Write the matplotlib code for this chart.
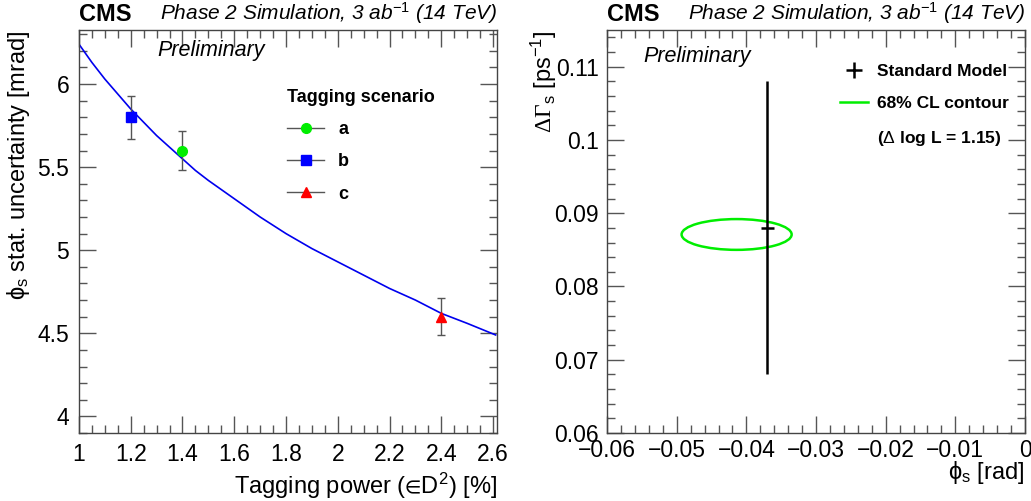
import matplotlib
matplotlib.use('Agg')
import matplotlib.pyplot as plt
from matplotlib.patches import Ellipse
from matplotlib.ticker import MultipleLocator
from matplotlib.lines import Line2D

plt.rcParams['font.family'] = ['Liberation Sans', 'DejaVu Sans']
plt.rcParams['mathtext.fontset'] = 'custom'
plt.rcParams['mathtext.rm'] = 'Liberation Sans'
plt.rcParams['mathtext.it'] = 'Liberation Sans:italic'
plt.rcParams['mathtext.bf'] = 'Liberation Sans:bold'
plt.rcParams['mathtext.cal'] = 'Liberation Serif'

# left panel: tagging scenarios
scen_names = ['a', 'b', 'c']
scen_power = [1.4, 1.2, 2.4]
scen_sigma = [5.6, 5.8, 4.6]
scen_err = [0.12, 0.13, 0.11]
scen_color = ['#00ee00', '#0000ff', '#ff0000']
scen_marker = ['o', 's', '^']

# fitted curve
curve_x = [1.0, 1.05, 1.1, 1.15, 1.2, 1.25, 1.3, 1.35, 1.4, 1.45, 1.5, 1.6, 1.7,
           1.8, 1.9, 2.0, 2.1, 2.2, 2.3, 2.4, 2.5, 2.61]
curve_y = [6.24, 6.13, 6.03, 5.94, 5.85, 5.77, 5.69, 5.62, 5.55, 5.48, 5.42, 5.31, 5.20,
           5.10, 5.01, 4.93, 4.85, 4.77, 4.70, 4.62, 4.56, 4.49]

# right panel: SM point and 68% CL contour
sm_phi, sm_dg = -0.0370, 0.088
sm_phi_err, sm_dg_err = 0.0009, 0.020
cont_center = (-0.0414, 0.0871)
cont_width, cont_height = 0.0158, 0.0042

fig = plt.figure(figsize=(10.31, 5.01), dpi=100)
axL = fig.add_axes([0.0766, 0.1357, 0.4054, 0.8043])
axR = fig.add_axes([0.5888, 0.1357, 0.4054, 0.8043])

def root_style(ax):
    for s in ax.spines.values():
        s.set_linewidth(1.0)
        s.set_color('#444444')
    ax.tick_params(which='both', direction='in', top=True, right=True,
                   color='#555555', labelsize=16.5, pad=7)
    ax.tick_params(which='major', length=12, width=1)
    ax.tick_params(which='minor', length=6, width=1)

# ---- left
axL.plot(curve_x, curve_y, color='#0000ee', lw=1.2, zorder=2)
for n, x, y, e, c, m in zip(scen_names, scen_power, scen_sigma, scen_err, scen_color, scen_marker):
    axL.errorbar(x, y, yerr=e, fmt=m, color=c, ms=7, ecolor='#555555',
                 elinewidth=1, capsize=3, capthick=1, zorder=3)
axL.set_xlim(1, 2.615)
axL.set_ylim(3.9, 6.325)
axL.xaxis.set_minor_locator(MultipleLocator(0.05))
axL.yaxis.set_minor_locator(MultipleLocator(0.1))
axL.set_xticks([1, 1.2, 1.4, 1.6, 1.8, 2, 2.2, 2.4, 2.6])
axL.set_xticklabels(['1', '1.2', '1.4', '1.6', '1.8', '2', '2.2', '2.4', '2.6'])
axL.set_yticks([4, 4.5, 5, 5.5, 6])
axL.set_yticklabels(['4', '4.5', '5', '5.5', '6'])
root_style(axL)
axL.set_xlabel('Tagging power ($\\mathrm{\u2208}$D$^{2}$) [%]', fontsize=17, loc='right')
axL.set_ylabel('$\\mathrm{\u03d5}_\\mathrm{s}$ stat. uncertainty [mrad]', fontsize=17, loc='top')
axL.text(0, 1.01, 'CMS', transform=axL.transAxes, fontsize=17, fontweight='bold', va='bottom')
axL.text(1, 1.01, 'Phase 2 Simulation, 3 ab$^{-1}$ (14 TeV)', transform=axL.transAxes,
         fontsize=15, style='italic', ha='right', va='bottom')
axL.text(0.187, 0.95, 'Preliminary', transform=axL.transAxes, fontsize=15.5,
         style='italic', va='center')

handles = [Line2D([], [], marker=m, color='#555555', mfc=c, mec=c, ms=7, lw=1)
           for c, m in zip(scen_color, scen_marker)]
leg = axL.legend(handles, scen_names, title='Tagging scenario', loc='upper left',
                 bbox_to_anchor=(0.46, 0.895), frameon=False,
                 handlelength=2.0, labelspacing=0.85,
                 prop={'weight': 'bold', 'size': 13},
                 title_fontproperties={'weight': 'bold', 'size': 13})
leg._legend_box.align = 'left'

# ---- right
axR.add_patch(Ellipse(cont_center, cont_width, cont_height, fill=False,
                      edgecolor='#00ee00', lw=1.8))
axR.errorbar(sm_phi, sm_dg, xerr=sm_phi_err, yerr=sm_dg_err, fmt='none',
             ecolor='black', elinewidth=1.8)
axR.set_xlim(-0.06, 0)
axR.set_ylim(0.06, 0.115)
axR.xaxis.set_minor_locator(MultipleLocator(0.002))
axR.yaxis.set_minor_locator(MultipleLocator(0.002))
axR.set_xticks([-0.06, -0.05, -0.04, -0.03, -0.02, -0.01, 0])
axR.set_xticklabels(['\u22120.06', '\u22120.05', '\u22120.04', '\u22120.03', '\u22120.02', '\u22120.01', '0'])
axR.set_yticks([0.06, 0.07, 0.08, 0.09, 0.1, 0.11])
axR.set_yticklabels(['0.06', '0.07', '0.08', '0.09', '0.1', '0.11'])
root_style(axR)
axR.tick_params(axis='x', pad=4)
axR.tick_params(axis='y', pad=6)
axR.set_xlabel('$\\mathrm{\u03d5}_\\mathrm{s}$ [rad]', fontsize=17, loc='right', labelpad=-2)
axR.set_ylabel('$\\mathcal{\\Delta\\Gamma}_\\mathrm{s}$ [ps$^{-1}$]', fontsize=17, loc='top')
axR.yaxis.set_label_coords(-0.115, 1.0)
axR.text(0, 1.01, 'CMS', transform=axR.transAxes, fontsize=17, fontweight='bold', va='bottom')
axR.text(1, 1.01, 'Phase 2 Simulation, 3 ab$^{-1}$ (14 TeV)', transform=axR.transAxes,
         fontsize=15, style='italic', ha='right', va='bottom')
axR.text(0.087, 0.935, 'Preliminary', transform=axR.transAxes, fontsize=15.5,
         style='italic', va='center')

hR = [Line2D([], [], color='black', lw=1.8, marker='+', ms=12, mew=1.8, linestyle='none'),
      Line2D([], [], color='#00ee00', lw=1.8),
      Line2D([], [], color='none')]
axR.legend(hR, ['Standard Model', '68% CL contour', '($\\Delta$ log L = 1.15)'],
           loc='upper left', bbox_to_anchor=(0.52, 0.955), frameon=False,
           prop={'weight': 'bold', 'size': 12.5}, handlelength=1.6,
           handletextpad=0.55, labelspacing=1.0)

fig.savefig('out.png', dpi=100)
